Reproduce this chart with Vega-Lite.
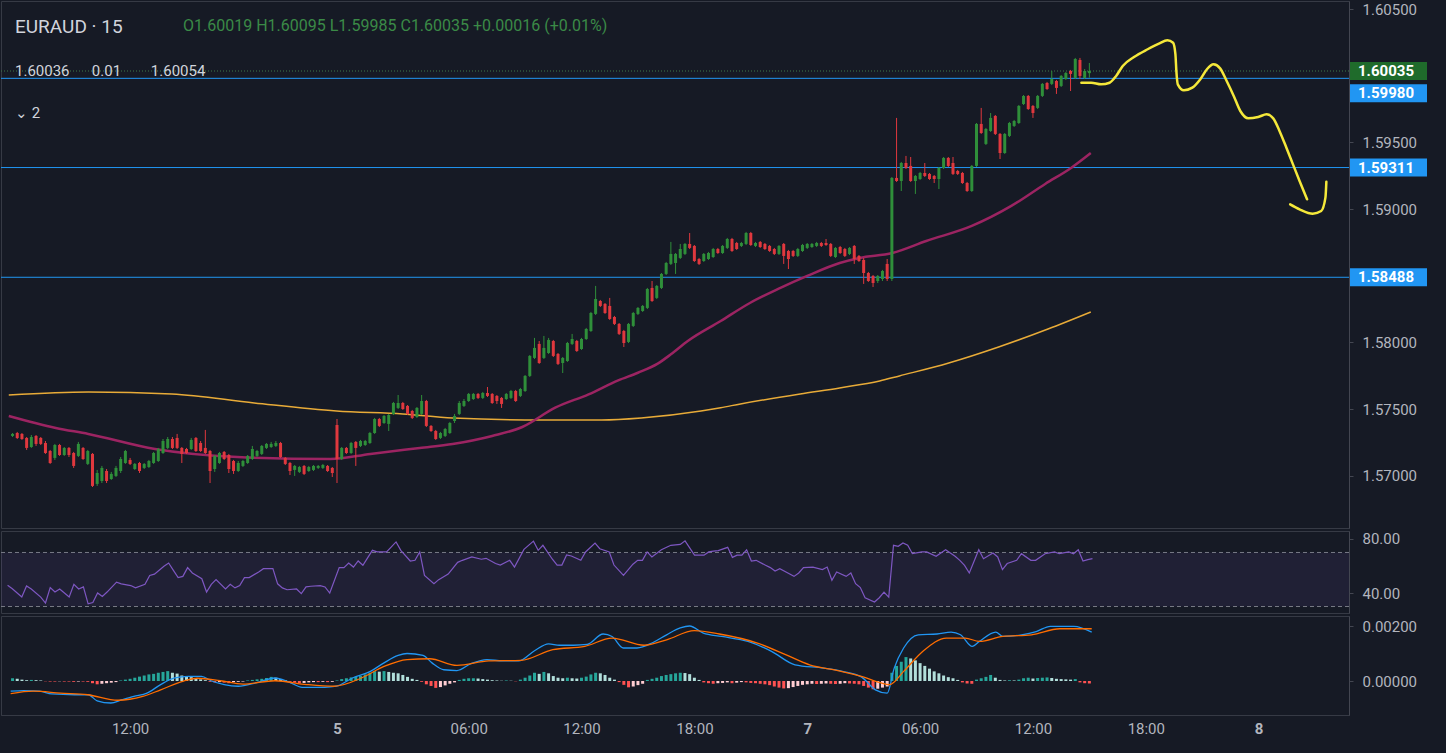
{
  "$schema": "https://vega.github.io/schema/vega-lite/v6.json",
  "background": "#161a25",
  "padding": 0,
  "spacing": 1,
  "title": {"text": "O1.60019 H1.60095 L1.59985 C1.60035 +0.00016 (+0.01%)", "anchor": "start", "dx": 183, "offset": -33, "font": "Roboto", "fontSize": 16, "fontWeight": "normal", "color": "#3b8a47"},
  "config": {
    "view": {"stroke": "#363a45", "strokeWidth": 1},
    "font": "Roboto",
    "axis": {"labelColor": "#b2b5be", "labelFont": "Roboto", "labelFontSize": 15, "domainColor": "#434651", "tickColor": "#434651", "grid": false}
  },
  "resolve": {"scale": {"y": "independent", "color": "independent"}},
  "datasets": {
    "candles": [
      {"i":0,"o":1.57298,"h":1.5732,"l":1.5729,"c":1.57313,"hv":0.0001},
      {"i":1,"o":1.5732,"h":1.57328,"l":1.57275,"c":1.57283,"hv":0.00008},
      {"i":2,"o":1.57313,"h":1.5732,"l":1.57268,"c":1.57275,"hv":0.00005},
      {"i":3,"o":1.57283,"h":1.5729,"l":1.57193,"c":1.57208,"hv":0.00003},
      {"i":4,"o":1.57215,"h":1.57305,"l":1.57208,"c":1.5729,"hv":0.00004},
      {"i":5,"o":1.57298,"h":1.57305,"l":1.57223,"c":1.57238,"hv":0.00003},
      {"i":6,"o":1.57283,"h":1.5729,"l":1.5723,"c":1.57238,"hv":0.00002},
      {"i":7,"o":1.57245,"h":1.5726,"l":1.57163,"c":1.5717,"hv":-0.00001},
      {"i":8,"o":1.57185,"h":1.57193,"l":1.57088,"c":1.57095,"hv":-0.00002},
      {"i":9,"o":1.57133,"h":1.57238,"l":1.57118,"c":1.5723,"hv":-0.00002},
      {"i":10,"o":1.5723,"h":1.57238,"l":1.57148,"c":1.57155,"hv":-0.00001},
      {"i":11,"o":1.57155,"h":1.57215,"l":1.57148,"c":1.57208,"hv":-0.00002},
      {"i":12,"o":1.57208,"h":1.57215,"l":1.5714,"c":1.57155,"hv":-0.00002},
      {"i":13,"o":1.5717,"h":1.57178,"l":1.57058,"c":1.57073,"hv":-0.00003},
      {"i":14,"o":1.57148,"h":1.57253,"l":1.5714,"c":1.57238,"hv":-0.00002},
      {"i":15,"o":1.57208,"h":1.57215,"l":1.57118,"c":1.57125,"hv":-0.00002},
      {"i":16,"o":1.57088,"h":1.57193,"l":1.5708,"c":1.57185,"hv":-0.00003},
      {"i":17,"o":1.57163,"h":1.5717,"l":1.56915,"c":1.56923,"hv":-0.00008},
      {"i":18,"o":1.56938,"h":1.57043,"l":1.56923,"c":1.5702,"hv":-0.00012},
      {"i":19,"o":1.5696,"h":1.57073,"l":1.56945,"c":1.57058,"hv":-0.0001},
      {"i":20,"o":1.57035,"h":1.5705,"l":1.56945,"c":1.5696,"hv":-0.00008},
      {"i":21,"o":1.56975,"h":1.57028,"l":1.56968,"c":1.57013,"hv":-0.00006},
      {"i":22,"o":1.56998,"h":1.57073,"l":1.5699,"c":1.57058,"hv":-0.00004},
      {"i":23,"o":1.57035,"h":1.5714,"l":1.5702,"c":1.57125,"hv":0.00002},
      {"i":24,"o":1.57095,"h":1.57193,"l":1.57088,"c":1.57185,"hv":0.00005},
      {"i":25,"o":1.57118,"h":1.57133,"l":1.5708,"c":1.57088,"hv":0.00008},
      {"i":26,"o":1.5705,"h":1.57095,"l":1.57043,"c":1.57088,"hv":0.00012},
      {"i":27,"o":1.57095,"h":1.57103,"l":1.5702,"c":1.57035,"hv":0.00016},
      {"i":28,"o":1.57058,"h":1.57095,"l":1.5705,"c":1.57088,"hv":0.0002},
      {"i":29,"o":1.57065,"h":1.57118,"l":1.57058,"c":1.5711,"hv":0.00024},
      {"i":30,"o":1.57095,"h":1.57178,"l":1.57088,"c":1.5717,"hv":0.00026},
      {"i":31,"o":1.5711,"h":1.57208,"l":1.57103,"c":1.572,"hv":0.0003},
      {"i":32,"o":1.5717,"h":1.57275,"l":1.57163,"c":1.5726,"hv":0.00033},
      {"i":33,"o":1.57208,"h":1.5729,"l":1.572,"c":1.57275,"hv":0.00036},
      {"i":34,"o":1.57275,"h":1.5729,"l":1.572,"c":1.57208,"hv":0.0003},
      {"i":35,"o":1.57283,"h":1.57313,"l":1.572,"c":1.57208,"hv":0.00027},
      {"i":36,"o":1.57208,"h":1.57215,"l":1.57095,"c":1.57163,"hv":0.0002},
      {"i":37,"o":1.572,"h":1.57208,"l":1.57163,"c":1.5717,"hv":0.00016},
      {"i":38,"o":1.572,"h":1.57283,"l":1.57193,"c":1.57268,"hv":0.00014},
      {"i":39,"o":1.57283,"h":1.5729,"l":1.57178,"c":1.57185,"hv":0.0001},
      {"i":40,"o":1.57245,"h":1.5726,"l":1.57178,"c":1.57185,"hv":0.00006},
      {"i":41,"o":1.57208,"h":1.57343,"l":1.57163,"c":1.5717,"hv":0.00003},
      {"i":42,"o":1.57185,"h":1.57193,"l":1.56945,"c":1.57035,"hv":-0.00003},
      {"i":43,"o":1.5705,"h":1.57155,"l":1.57028,"c":1.57148,"hv":-0.00005},
      {"i":44,"o":1.57095,"h":1.57178,"l":1.57088,"c":1.5717,"hv":-0.00004},
      {"i":45,"o":1.57178,"h":1.57185,"l":1.57118,"c":1.57125,"hv":-0.00006},
      {"i":46,"o":1.57155,"h":1.57163,"l":1.5702,"c":1.5705,"hv":-0.00008},
      {"i":47,"o":1.5711,"h":1.57118,"l":1.57013,"c":1.57035,"hv":-0.00004},
      {"i":48,"o":1.57035,"h":1.5711,"l":1.57028,"c":1.57095,"hv":-0.00003},
      {"i":49,"o":1.57073,"h":1.57118,"l":1.57065,"c":1.5711,"hv":-0.00002},
      {"i":50,"o":1.57095,"h":1.57155,"l":1.57088,"c":1.57148,"hv":0.00002},
      {"i":51,"o":1.57125,"h":1.57223,"l":1.57118,"c":1.572,"hv":0.00004},
      {"i":52,"o":1.57148,"h":1.57193,"l":1.5714,"c":1.57185,"hv":0.00006},
      {"i":53,"o":1.57163,"h":1.5723,"l":1.57155,"c":1.57223,"hv":0.00008},
      {"i":54,"o":1.57208,"h":1.57245,"l":1.572,"c":1.57238,"hv":0.00011},
      {"i":55,"o":1.57215,"h":1.57253,"l":1.57208,"c":1.57238,"hv":0.00015},
      {"i":56,"o":1.57223,"h":1.5726,"l":1.57215,"c":1.57245,"hv":0.00012},
      {"i":57,"o":1.57245,"h":1.57253,"l":1.57133,"c":1.5714,"hv":0.00007},
      {"i":58,"o":1.57133,"h":1.5714,"l":1.5708,"c":1.57088,"hv":0.00003},
      {"i":59,"o":1.57095,"h":1.57103,"l":1.57005,"c":1.57035,"hv":-0.00003},
      {"i":60,"o":1.57043,"h":1.5708,"l":1.56998,"c":1.57073,"hv":-0.00006},
      {"i":61,"o":1.57028,"h":1.57073,"l":1.5702,"c":1.57065,"hv":-0.00008},
      {"i":62,"o":1.57073,"h":1.5708,"l":1.57005,"c":1.57013,"hv":-0.00007},
      {"i":63,"o":1.57035,"h":1.57073,"l":1.57028,"c":1.57065,"hv":-0.00005},
      {"i":64,"o":1.57043,"h":1.5708,"l":1.57035,"c":1.57073,"hv":-0.00004},
      {"i":65,"o":1.57058,"h":1.5708,"l":1.5705,"c":1.57073,"hv":-0.00004},
      {"i":66,"o":1.57058,"h":1.57088,"l":1.5705,"c":1.5708,"hv":-0.00003},
      {"i":67,"o":1.57073,"h":1.5708,"l":1.57028,"c":1.57035,"hv":-0.00004},
      {"i":68,"o":1.57058,"h":1.57065,"l":1.5699,"c":1.5702,"hv":-0.00003},
      {"i":69,"o":1.5738,"h":1.57425,"l":1.56945,"c":1.57125,"hv":0.00002},
      {"i":70,"o":1.57125,"h":1.57215,"l":1.57118,"c":1.57208,"hv":0.00007},
      {"i":71,"o":1.57208,"h":1.57215,"l":1.57163,"c":1.5717,"hv":0.0001},
      {"i":72,"o":1.5717,"h":1.57253,"l":1.57163,"c":1.57245,"hv":0.00013},
      {"i":73,"o":1.57253,"h":1.5726,"l":1.57073,"c":1.57208,"hv":0.00015},
      {"i":74,"o":1.57223,"h":1.57268,"l":1.57215,"c":1.5726,"hv":0.00018},
      {"i":75,"o":1.5723,"h":1.57268,"l":1.57223,"c":1.5726,"hv":0.00024},
      {"i":76,"o":1.57245,"h":1.57328,"l":1.57238,"c":1.5732,"hv":0.0003},
      {"i":77,"o":1.5732,"h":1.57433,"l":1.57313,"c":1.57425,"hv":0.00036},
      {"i":78,"o":1.57425,"h":1.57433,"l":1.57365,"c":1.57373,"hv":0.00034},
      {"i":79,"o":1.57395,"h":1.57455,"l":1.57388,"c":1.57448,"hv":0.00036},
      {"i":80,"o":1.57388,"h":1.57463,"l":1.57335,"c":1.57455,"hv":0.00033},
      {"i":81,"o":1.57463,"h":1.57553,"l":1.57455,"c":1.57545,"hv":0.0003},
      {"i":82,"o":1.57508,"h":1.57605,"l":1.575,"c":1.57545,"hv":0.00028},
      {"i":83,"o":1.57545,"h":1.57553,"l":1.57493,"c":1.575,"hv":0.00022},
      {"i":84,"o":1.57523,"h":1.5753,"l":1.57455,"c":1.57463,"hv":0.00015},
      {"i":85,"o":1.57485,"h":1.57493,"l":1.57425,"c":1.57433,"hv":0.00008},
      {"i":86,"o":1.5744,"h":1.57515,"l":1.57433,"c":1.57508,"hv":0.00004},
      {"i":87,"o":1.57463,"h":1.57605,"l":1.57455,"c":1.5756,"hv":-0.00003},
      {"i":88,"o":1.5756,"h":1.57568,"l":1.57365,"c":1.57373,"hv":-0.00012},
      {"i":89,"o":1.57373,"h":1.5738,"l":1.57328,"c":1.57335,"hv":-0.00018},
      {"i":90,"o":1.57335,"h":1.57343,"l":1.57268,"c":1.57275,"hv":-0.00025},
      {"i":91,"o":1.57283,"h":1.57328,"l":1.57275,"c":1.5732,"hv":-0.00022},
      {"i":92,"o":1.57298,"h":1.57358,"l":1.5729,"c":1.5735,"hv":-0.00016},
      {"i":93,"o":1.5732,"h":1.57403,"l":1.57313,"c":1.57395,"hv":-0.0001},
      {"i":94,"o":1.5741,"h":1.57463,"l":1.57395,"c":1.57448,"hv":-0.00005},
      {"i":95,"o":1.57463,"h":1.5756,"l":1.57455,"c":1.57545,"hv":0.00004},
      {"i":96,"o":1.57523,"h":1.57575,"l":1.57515,"c":1.5756,"hv":0.00008},
      {"i":97,"o":1.5756,"h":1.5762,"l":1.57553,"c":1.57613,"hv":0.0001},
      {"i":98,"o":1.57575,"h":1.5762,"l":1.57568,"c":1.57613,"hv":0.0001},
      {"i":99,"o":1.57613,"h":1.5762,"l":1.57575,"c":1.57583,"hv":0.00009},
      {"i":100,"o":1.57583,"h":1.57628,"l":1.57575,"c":1.5762,"hv":0.00007},
      {"i":101,"o":1.5762,"h":1.57665,"l":1.5759,"c":1.57598,"hv":0.00005},
      {"i":102,"o":1.57613,"h":1.5762,"l":1.57538,"c":1.57545,"hv":0.00003},
      {"i":103,"o":1.57598,"h":1.57605,"l":1.57538,"c":1.5756,"hv":0.00002},
      {"i":104,"o":1.57583,"h":1.5759,"l":1.57508,"c":1.57538,"hv":0.00001},
      {"i":105,"o":1.57575,"h":1.5762,"l":1.57568,"c":1.57613,"hv":0.00002},
      {"i":106,"o":1.57583,"h":1.57643,"l":1.57575,"c":1.57635,"hv":0.00001},
      {"i":107,"o":1.57635,"h":1.57643,"l":1.57553,"c":1.5756,"hv":-0.00001},
      {"i":108,"o":1.57598,"h":1.57658,"l":1.5759,"c":1.5765,"hv":0.00005},
      {"i":109,"o":1.57635,"h":1.57755,"l":1.57628,"c":1.57748,"hv":0.00012},
      {"i":110,"o":1.57748,"h":1.57905,"l":1.5774,"c":1.57898,"hv":0.0002},
      {"i":111,"o":1.57883,"h":1.58033,"l":1.57875,"c":1.57958,"hv":0.0003},
      {"i":112,"o":1.57988,"h":1.5801,"l":1.57838,"c":1.57845,"hv":0.00026},
      {"i":113,"o":1.57883,"h":1.58048,"l":1.57875,"c":1.57958,"hv":0.00033},
      {"i":114,"o":1.5792,"h":1.58033,"l":1.57913,"c":1.58018,"hv":0.00028},
      {"i":115,"o":1.5801,"h":1.58018,"l":1.5789,"c":1.57898,"hv":0.00018},
      {"i":116,"o":1.57913,"h":1.5792,"l":1.5783,"c":1.57838,"hv":0.00012},
      {"i":117,"o":1.57845,"h":1.5789,"l":1.5777,"c":1.57883,"hv":0.0001},
      {"i":118,"o":1.5786,"h":1.58003,"l":1.57853,"c":1.57995,"hv":0.00012},
      {"i":119,"o":1.57988,"h":1.58063,"l":1.5798,"c":1.58025,"hv":0.0001},
      {"i":120,"o":1.5801,"h":1.58018,"l":1.57928,"c":1.57935,"hv":0.00009},
      {"i":121,"o":1.5795,"h":1.58033,"l":1.57943,"c":1.58025,"hv":0.00012},
      {"i":122,"o":1.58025,"h":1.58108,"l":1.58018,"c":1.581,"hv":0.00016},
      {"i":123,"o":1.58085,"h":1.58228,"l":1.58078,"c":1.5822,"hv":0.00024},
      {"i":124,"o":1.58213,"h":1.58423,"l":1.58205,"c":1.58325,"hv":0.0003},
      {"i":125,"o":1.5831,"h":1.58318,"l":1.58265,"c":1.58273,"hv":0.00028},
      {"i":126,"o":1.58288,"h":1.58295,"l":1.58213,"c":1.5822,"hv":0.00022},
      {"i":127,"o":1.58273,"h":1.58333,"l":1.58168,"c":1.58175,"hv":0.00012},
      {"i":128,"o":1.5819,"h":1.58198,"l":1.5813,"c":1.58138,"hv":0.00005},
      {"i":129,"o":1.58138,"h":1.58145,"l":1.58055,"c":1.58063,"hv":-0.00004},
      {"i":130,"o":1.58085,"h":1.58093,"l":1.57965,"c":1.57995,"hv":-0.00014},
      {"i":131,"o":1.58003,"h":1.58145,"l":1.57995,"c":1.58138,"hv":-0.00023},
      {"i":132,"o":1.58123,"h":1.58228,"l":1.58115,"c":1.5822,"hv":-0.0002},
      {"i":133,"o":1.58213,"h":1.58265,"l":1.58205,"c":1.58258,"hv":-0.00015},
      {"i":134,"o":1.58235,"h":1.5828,"l":1.58228,"c":1.58273,"hv":-0.0001},
      {"i":135,"o":1.58258,"h":1.58408,"l":1.5825,"c":1.584,"hv":0.00004},
      {"i":136,"o":1.58408,"h":1.5846,"l":1.58303,"c":1.5831,"hv":0.00008},
      {"i":137,"o":1.58333,"h":1.5843,"l":1.58325,"c":1.58423,"hv":0.00012},
      {"i":138,"o":1.58408,"h":1.5852,"l":1.584,"c":1.58513,"hv":0.00018},
      {"i":139,"o":1.58513,"h":1.58603,"l":1.58505,"c":1.58595,"hv":0.00022},
      {"i":140,"o":1.58588,"h":1.58753,"l":1.5858,"c":1.58663,"hv":0.00025},
      {"i":141,"o":1.58595,"h":1.5867,"l":1.58513,"c":1.58663,"hv":0.00028},
      {"i":142,"o":1.58633,"h":1.58738,"l":1.58625,"c":1.587,"hv":0.0003},
      {"i":143,"o":1.58663,"h":1.58745,"l":1.58655,"c":1.58738,"hv":0.00029},
      {"i":144,"o":1.58738,"h":1.5882,"l":1.587,"c":1.58708,"hv":0.00025},
      {"i":145,"o":1.58723,"h":1.5873,"l":1.58603,"c":1.5861,"hv":0.00012},
      {"i":146,"o":1.58625,"h":1.58633,"l":1.5858,"c":1.58588,"hv":0.00004},
      {"i":147,"o":1.5861,"h":1.5867,"l":1.58603,"c":1.58663,"hv":-0.00005},
      {"i":148,"o":1.58625,"h":1.58678,"l":1.58618,"c":1.5867,"hv":-0.00008},
      {"i":149,"o":1.5864,"h":1.58708,"l":1.58633,"c":1.587,"hv":-0.0001},
      {"i":150,"o":1.587,"h":1.58708,"l":1.58663,"c":1.5867,"hv":-0.00008},
      {"i":151,"o":1.5867,"h":1.5873,"l":1.58663,"c":1.58723,"hv":-0.00007},
      {"i":152,"o":1.58708,"h":1.58783,"l":1.587,"c":1.58775,"hv":-0.00005},
      {"i":153,"o":1.58775,"h":1.58783,"l":1.58678,"c":1.58685,"hv":-0.00008},
      {"i":154,"o":1.58745,"h":1.58753,"l":1.58693,"c":1.587,"hv":-0.00006},
      {"i":155,"o":1.58723,"h":1.58753,"l":1.58715,"c":1.58745,"hv":-0.00004},
      {"i":156,"o":1.58738,"h":1.58828,"l":1.5873,"c":1.5882,"hv":-0.00005},
      {"i":157,"o":1.5882,"h":1.58828,"l":1.58723,"c":1.5873,"hv":-0.00007},
      {"i":158,"o":1.58723,"h":1.58753,"l":1.58715,"c":1.58745,"hv":-0.00008},
      {"i":159,"o":1.58753,"h":1.5876,"l":1.58708,"c":1.58715,"hv":-0.0001},
      {"i":160,"o":1.58738,"h":1.58745,"l":1.58693,"c":1.587,"hv":-0.00012},
      {"i":161,"o":1.58723,"h":1.5873,"l":1.58678,"c":1.58685,"hv":-0.00015},
      {"i":162,"o":1.587,"h":1.58708,"l":1.58655,"c":1.58663,"hv":-0.0002},
      {"i":163,"o":1.58663,"h":1.5873,"l":1.58655,"c":1.58723,"hv":-0.00024},
      {"i":164,"o":1.58738,"h":1.58745,"l":1.58588,"c":1.58648,"hv":-0.00027},
      {"i":165,"o":1.58685,"h":1.58693,"l":1.5855,"c":1.58625,"hv":-0.00026},
      {"i":166,"o":1.58685,"h":1.58693,"l":1.5864,"c":1.58648,"hv":-0.00022},
      {"i":167,"o":1.58648,"h":1.58708,"l":1.5864,"c":1.587,"hv":-0.00018},
      {"i":168,"o":1.58685,"h":1.58738,"l":1.58678,"c":1.5873,"hv":-0.00014},
      {"i":169,"o":1.58708,"h":1.58745,"l":1.587,"c":1.58738,"hv":-0.00012},
      {"i":170,"o":1.58715,"h":1.58745,"l":1.58708,"c":1.58738,"hv":-0.0001},
      {"i":171,"o":1.58723,"h":1.58753,"l":1.58715,"c":1.58745,"hv":-0.00011},
      {"i":172,"o":1.58745,"h":1.58753,"l":1.58715,"c":1.58723,"hv":-0.0001},
      {"i":173,"o":1.58745,"h":1.58775,"l":1.58723,"c":1.5873,"hv":-0.00009},
      {"i":174,"o":1.58738,"h":1.58745,"l":1.5864,"c":1.58648,"hv":-0.0001},
      {"i":175,"o":1.5864,"h":1.58715,"l":1.58633,"c":1.58708,"hv":-0.00011},
      {"i":176,"o":1.58715,"h":1.58723,"l":1.58663,"c":1.5867,"hv":-0.0001},
      {"i":177,"o":1.587,"h":1.58708,"l":1.5864,"c":1.58648,"hv":-0.00008},
      {"i":178,"o":1.58663,"h":1.58715,"l":1.58655,"c":1.58708,"hv":-0.00009},
      {"i":179,"o":1.58723,"h":1.5873,"l":1.58588,"c":1.58625,"hv":-0.0001},
      {"i":180,"o":1.58648,"h":1.58655,"l":1.58603,"c":1.5861,"hv":-0.00012},
      {"i":181,"o":1.58618,"h":1.58633,"l":1.58438,"c":1.5852,"hv":-0.00018},
      {"i":182,"o":1.5852,"h":1.58528,"l":1.58453,"c":1.5846,"hv":-0.00024},
      {"i":183,"o":1.58498,"h":1.58505,"l":1.58415,"c":1.58445,"hv":-0.0003},
      {"i":184,"o":1.5846,"h":1.58505,"l":1.58445,"c":1.58498,"hv":-0.00028},
      {"i":185,"o":1.58475,"h":1.58543,"l":1.5846,"c":1.58535,"hv":-0.00024},
      {"i":186,"o":1.58588,"h":1.58625,"l":1.5846,"c":1.58475,"hv":-0.0002},
      {"i":187,"o":1.58475,"h":1.5924,"l":1.5846,"c":1.59233,"hv":0.0003},
      {"i":188,"o":1.59233,"h":1.59683,"l":1.59203,"c":1.5921,"hv":0.00055},
      {"i":189,"o":1.5921,"h":1.59353,"l":1.59135,"c":1.59345,"hv":0.0007},
      {"i":190,"o":1.59345,"h":1.59398,"l":1.593,"c":1.59308,"hv":0.00087},
      {"i":191,"o":1.59323,"h":1.5939,"l":1.59203,"c":1.5921,"hv":0.00082},
      {"i":192,"o":1.5921,"h":1.59255,"l":1.59113,"c":1.59248,"hv":0.00075},
      {"i":193,"o":1.59225,"h":1.59278,"l":1.59218,"c":1.5927,"hv":0.00065},
      {"i":194,"o":1.5927,"h":1.59345,"l":1.5924,"c":1.59248,"hv":0.00055},
      {"i":195,"o":1.59263,"h":1.5927,"l":1.59218,"c":1.59225,"hv":0.00045},
      {"i":196,"o":1.59248,"h":1.59255,"l":1.59195,"c":1.59225,"hv":0.00035},
      {"i":197,"o":1.59225,"h":1.59315,"l":1.5915,"c":1.59308,"hv":0.00028},
      {"i":198,"o":1.59308,"h":1.5939,"l":1.593,"c":1.59383,"hv":0.0002},
      {"i":199,"o":1.59383,"h":1.5939,"l":1.59315,"c":1.59323,"hv":0.00014},
      {"i":200,"o":1.59345,"h":1.5939,"l":1.59255,"c":1.59263,"hv":0.0001},
      {"i":201,"o":1.59285,"h":1.59293,"l":1.59255,"c":1.59263,"hv":0.00004},
      {"i":202,"o":1.5927,"h":1.59278,"l":1.59188,"c":1.59195,"hv":-0.00005},
      {"i":203,"o":1.59195,"h":1.59203,"l":1.59128,"c":1.59135,"hv":-0.00009},
      {"i":204,"o":1.59135,"h":1.5933,"l":1.59128,"c":1.59323,"hv":-0.0001},
      {"i":205,"o":1.59323,"h":1.59645,"l":1.59315,"c":1.59638,"hv":0.00005},
      {"i":206,"o":1.59638,"h":1.59758,"l":1.59563,"c":1.5957,"hv":0.0001},
      {"i":207,"o":1.59488,"h":1.59608,"l":1.5948,"c":1.596,"hv":0.00015},
      {"i":208,"o":1.59585,"h":1.5972,"l":1.59578,"c":1.59683,"hv":0.00022},
      {"i":209,"o":1.59698,"h":1.59705,"l":1.59555,"c":1.59563,"hv":0.00012},
      {"i":210,"o":1.59563,"h":1.5957,"l":1.59375,"c":1.5942,"hv":0.00004},
      {"i":211,"o":1.5942,"h":1.5957,"l":1.59413,"c":1.59563,"hv":0.00002},
      {"i":212,"o":1.59548,"h":1.59653,"l":1.5954,"c":1.59645,"hv":0.00003},
      {"i":213,"o":1.59623,"h":1.59668,"l":1.59615,"c":1.5966,"hv":0.00002},
      {"i":214,"o":1.59645,"h":1.5978,"l":1.59638,"c":1.59773,"hv":0.00005},
      {"i":215,"o":1.59788,"h":1.59855,"l":1.5978,"c":1.59848,"hv":0.0001},
      {"i":216,"o":1.59848,"h":1.59855,"l":1.59743,"c":1.5975,"hv":0.00012},
      {"i":217,"o":1.59773,"h":1.5978,"l":1.59683,"c":1.5972,"hv":0.00009},
      {"i":218,"o":1.59758,"h":1.59855,"l":1.5975,"c":1.59848,"hv":0.00011},
      {"i":219,"o":1.59848,"h":1.59945,"l":1.5984,"c":1.59938,"hv":0.00012},
      {"i":220,"o":1.59945,"h":1.59953,"l":1.59893,"c":1.599,"hv":0.00013},
      {"i":221,"o":1.59938,"h":1.60035,"l":1.5993,"c":1.59975,"hv":0.00011},
      {"i":222,"o":1.5996,"h":1.59968,"l":1.59863,"c":1.59908,"hv":0.00008},
      {"i":223,"o":1.59923,"h":1.60005,"l":1.59915,"c":1.59998,"hv":0.00007},
      {"i":224,"o":1.59975,"h":1.60028,"l":1.59968,"c":1.6002,"hv":0.00006},
      {"i":225,"o":1.60035,"h":1.60043,"l":1.59885,"c":1.60013,"hv":0.00005},
      {"i":226,"o":1.59983,"h":1.60133,"l":1.59975,"c":1.60125,"hv":0.00007},
      {"i":227,"o":1.60118,"h":1.60133,"l":1.59975,"c":1.59998,"hv":-0.00005},
      {"i":228,"o":1.59983,"h":1.6005,"l":1.59975,"c":1.60035,"hv":-0.00008},
      {"i":229,"o":1.60019,"h":1.60095,"l":1.59985,"c":1.60035,"hv":-0.00009}
    ],
    "ema": [
      {"i":-0.8,"v":1.57448},{"i":9.2,"v":1.57358},{"i":16.1,"v":1.57313},{"i":30.3,"v":1.572},{"i":47.8,"v":1.5714},{"i":67.6,"v":1.57125},{"i":76.1,"v":1.57163},{"i":86.6,"v":1.57208},{"i":93.6,"v":1.57238},{"i":102,"v":1.57298},{"i":108.4,"v":1.57365},{"i":115.4,"v":1.5751},{"i":122.5,"v":1.5761},{"i":128.8,"v":1.57715},{"i":133,"v":1.57772},{"i":137.2,"v":1.5784},{"i":140,"v":1.5791},{"i":143.6,"v":1.5801},{"i":150.6,"v":1.5816},{"i":156.9,"v":1.58297},{"i":163.3,"v":1.58408},{"i":169,"v":1.58498},{"i":175.9,"v":1.58595},{"i":180.1,"v":1.58633},{"i":187.1,"v":1.5867},{"i":194.3,"v":1.5876},{"i":204,"v":1.58873},{"i":212.4,"v":1.59023},{"i":219.6,"v":1.59188},{"i":225.1,"v":1.59308},{"i":229.3,"v":1.5942}
    ],
    "sma": [
      {"i":-0.8,"v":1.57605},{"i":16.1,"v":1.57628},{"i":33.9,"v":1.57613},{"i":51.4,"v":1.57545},{"i":68.9,"v":1.57485},{"i":83,"v":1.57463},{"i":93.6,"v":1.57433},{"i":112.6,"v":1.57418},{"i":125.3,"v":1.57418},{"i":133.7,"v":1.57433},{"i":146.4,"v":1.57485},{"i":150.6,"v":1.5751},{"i":154.8,"v":1.57538},{"i":167.5,"v":1.57613},{"i":175.9,"v":1.57658},{"i":184.4,"v":1.5771},{"i":188.6,"v":1.57748},{"i":199.1,"v":1.57845},{"i":209.7,"v":1.57965},{"i":220.2,"v":1.581},{"i":229.3,"v":1.58228}
    ],
    "levels": [{"p":1.5998},{"p":1.59311},{"p":1.58488}],
    "rsiband": [{"lo":30,"hi":70}],
    "rsi": [
      {"i":0,"v":45.7},{"i":1,"v":43.2},{"i":3,"v":37},{"i":4,"v":45.2},{"i":5,"v":43},{"i":7,"v":37},{"i":8,"v":32.6},{"i":9,"v":44},{"i":10,"v":40.7},{"i":11,"v":43},{"i":12,"v":40},{"i":13,"v":37},{"i":14,"v":46.4},{"i":15,"v":43},{"i":16,"v":44.5},{"i":17,"v":32},{"i":18,"v":33},{"i":19,"v":40},{"i":20,"v":37.4},{"i":21,"v":40.7},{"i":23,"v":48},{"i":24,"v":46.8},{"i":26,"v":45.5},{"i":27,"v":43.8},{"i":29,"v":46.4},{"i":30,"v":53},{"i":31,"v":54},{"i":33,"v":59.8},{"i":34,"v":62.2},{"i":35,"v":56.7},{"i":36,"v":51.4},{"i":37,"v":52.3},{"i":38,"v":58.8},{"i":39,"v":54.8},{"i":41,"v":50.6},{"i":42,"v":40.7},{"i":43,"v":46.4},{"i":44,"v":49.9},{"i":46,"v":43},{"i":47,"v":46.4},{"i":48,"v":43.8},{"i":49,"v":45.5},{"i":50,"v":51.4},{"i":51,"v":51.4},{"i":53,"v":55.6},{"i":54,"v":58},{"i":56,"v":58},{"i":57,"v":46.8},{"i":58,"v":43.8},{"i":59,"v":42.4},{"i":61,"v":43},{"i":62,"v":39.5},{"i":63,"v":44.5},{"i":64,"v":45},{"i":66,"v":45.5},{"i":67,"v":44.5},{"i":68,"v":40},{"i":70,"v":58.8},{"i":71,"v":58.8},{"i":72,"v":62.2},{"i":73,"v":59.2},{"i":74,"v":63.7},{"i":75,"v":60.5},{"i":77,"v":71.6},{"i":78,"v":70.4},{"i":80,"v":70.4},{"i":82,"v":77.8},{"i":83,"v":71.6},{"i":85,"v":63.7},{"i":86,"v":64.2},{"i":87,"v":70.4},{"i":88,"v":53},{"i":90,"v":46.8},{"i":91,"v":49.9},{"i":93,"v":54},{"i":95,"v":62.7},{"i":96,"v":64.2},{"i":98,"v":66.7},{"i":100,"v":65},{"i":101,"v":65.7},{"i":103,"v":61.8},{"i":104,"v":60.7},{"i":106,"v":64.2},{"i":107,"v":59.2},{"i":109,"v":72.3},{"i":111,"v":78.4},{"i":112,"v":71.6},{"i":113,"v":75.3},{"i":115,"v":65},{"i":116,"v":60.7},{"i":117,"v":60.7},{"i":118,"v":68.2},{"i":119,"v":67.4},{"i":121,"v":64.2},{"i":122,"v":70.4},{"i":124,"v":77},{"i":125,"v":72.8},{"i":127,"v":70.4},{"i":128,"v":60.7},{"i":130,"v":53},{"i":132,"v":61.3},{"i":133,"v":64.2},{"i":134,"v":64.2},{"i":135,"v":70.4},{"i":136,"v":66.7},{"i":138,"v":72},{"i":140,"v":75.3},{"i":142,"v":76},{"i":143,"v":78.6},{"i":145,"v":68},{"i":147,"v":68},{"i":148,"v":70.4},{"i":149,"v":71},{"i":150,"v":71.4},{"i":152,"v":73.8},{"i":153,"v":66.4},{"i":154,"v":68},{"i":155,"v":68},{"i":156,"v":72},{"i":157,"v":63.7},{"i":158,"v":64.2},{"i":160,"v":60.5},{"i":161,"v":58.8},{"i":162,"v":56.3},{"i":163,"v":58},{"i":165,"v":54.3},{"i":166,"v":52.3},{"i":167,"v":54.8},{"i":168,"v":58.8},{"i":170,"v":59.2},{"i":172,"v":57.3},{"i":173,"v":59.2},{"i":174,"v":49.4},{"i":175,"v":55.6},{"i":177,"v":52.3},{"i":178,"v":54.8},{"i":179,"v":46.9},{"i":180,"v":44},{"i":181,"v":36.5},{"i":183,"v":33.3},{"i":184,"v":36.5},{"i":185,"v":40.7},{"i":186,"v":37},{"i":187,"v":75.3},{"i":188,"v":74.6},{"i":189,"v":77},{"i":190,"v":75.3},{"i":191,"v":69.1},{"i":193,"v":70.4},{"i":194,"v":70.4},{"i":196,"v":67.2},{"i":198,"v":72},{"i":200,"v":67.2},{"i":201,"v":64.2},{"i":202,"v":60.5},{"i":203,"v":54.8},{"i":205,"v":72},{"i":206,"v":65.4},{"i":208,"v":69.6},{"i":209,"v":66.7},{"i":210,"v":57.3},{"i":211,"v":61.8},{"i":213,"v":64.2},{"i":214,"v":69.1},{"i":216,"v":64.2},{"i":217,"v":64.2},{"i":219,"v":69.1},{"i":221,"v":70.4},{"i":222,"v":69.1},{"i":224,"v":70.4},{"i":225,"v":69.1},{"i":226,"v":72},{"i":227,"v":63.7},{"i":228,"v":64.7},{"i":229,"v":65.4}
    ],
    "macd": [
      {"i":-0.4,"m":-0.00037},{"i":2.4,"m":-0.00035},{"i":5.8,"m":-0.00037},{"i":8.3,"m":-0.00047},{"i":13.2,"m":-0.0005},{"i":16.1,"m":-0.0005},{"i":18,"m":-0.00072},{"i":20.9,"m":-0.0008},{"i":23.3,"m":-0.00068},{"i":25.8,"m":-0.00056},{"i":28.6,"m":-0.00044},{"i":31.5,"m":-0.00013},{"i":34.5,"m":0.00011},{"i":37.4,"m":0.00017},{"i":40.2,"m":0.00017},{"i":42.2,"m":0.00001},{"i":45,"m":-0.00013},{"i":48,"m":-0.00019},{"i":51.9,"m":-0.00006},{"i":55.8,"m":0.00011},{"i":58.7,"m":-0.00003},{"i":61.6,"m":-0.00023},{"i":66.4,"m":-0.00023},{"i":68.9,"m":-0.00019},{"i":72.3,"m":0.00011},{"i":76.1,"m":0.00035},{"i":79,"m":0.00066},{"i":82,"m":0.00093},{"i":83.9,"m":0.001},{"i":87.3,"m":0.00093},{"i":89.2,"m":0.00066},{"i":91.7,"m":0.00041},{"i":94.5,"m":0.00038},{"i":97.5,"m":0.00063},{"i":100.9,"m":0.00078},{"i":104.2,"m":0.00073},{"i":107.6,"m":0.00073},{"i":111,"m":0.0011},{"i":114,"m":0.00135},{"i":116.3,"m":0.0013},{"i":119.3,"m":0.0013},{"i":122.2,"m":0.00133},{"i":125.6,"m":0.00171},{"i":127.5,"m":0.00162},{"i":129.9,"m":0.0012},{"i":132.8,"m":0.0012},{"i":136.2,"m":0.0014},{"i":139.1,"m":0.00168},{"i":142,"m":0.00193},{"i":144,"m":0.002},{"i":146.9,"m":0.00174},{"i":150.8,"m":0.00162},{"i":156.4,"m":0.00144},{"i":161.4,"m":0.00108},{"i":166.4,"m":0.00059},{"i":172.5,"m":0.00047},{"i":176.5,"m":0.00035},{"i":180.5,"m":0.00015},{"i":183.5,"m":-0.00032},{"i":186,"m":-0.00044},{"i":187.5,"m":0.00047},{"i":189.5,"m":0.0012},{"i":192.6,"m":0.00168},{"i":196.6,"m":0.00171},{"i":199.6,"m":0.00178},{"i":201.6,"m":0.00168},{"i":204.1,"m":0.00126},{"i":205.6,"m":0.00144},{"i":209.1,"m":0.00178},{"i":210.6,"m":0.00162},{"i":214.6,"m":0.00168},{"i":217.7,"m":0.0018},{"i":220.7,"m":0.00199},{"i":225.7,"m":0.00199},{"i":229.5,"m":0.00178}
    ],
    "sig": [
      {"i":-0.4,"s":-0.00046},{"i":4.4,"s":-0.00037},{"i":10.2,"s":-0.00044},{"i":16,"s":-0.0005},{"i":22.4,"s":-0.0007},{"i":27.7,"s":-0.00056},{"i":31.5,"s":-0.00032},{"i":36.4,"s":0},{"i":39.3,"s":0.0001},{"i":44.2,"s":0.00001},{"i":49,"s":-0.00011},{"i":55.8,"s":0.00001},{"i":62.6,"s":-0.00013},{"i":68.4,"s":-0.00019},{"i":74.2,"s":0.00011},{"i":79,"s":0.00053},{"i":83.9,"s":0.00078},{"i":88.7,"s":0.00081},{"i":94.5,"s":0.00057},{"i":101.3,"s":0.00073},{"i":108.1,"s":0.00075},{"i":114.9,"s":0.00114},{"i":121.7,"s":0.00126},{"i":127.5,"s":0.00156},{"i":134.3,"s":0.0013},{"i":139.1,"s":0.0015},{"i":145,"s":0.00183},{"i":150.3,"s":0.00171},{"i":158.4,"s":0.00138},{"i":164.4,"s":0.00096},{"i":169.5,"s":0.00059},{"i":175.5,"s":0.00038},{"i":180.5,"s":0.00017},{"i":184.5,"s":-0.00006},{"i":186.5,"s":-0.00013},{"i":189.5,"s":0.00035},{"i":193.6,"s":0.00108},{"i":198.6,"s":0.00156},{"i":202.6,"s":0.00156},{"i":205.6,"s":0.00144},{"i":210.6,"s":0.00162},{"i":216.7,"s":0.00168},{"i":222.7,"s":0.0019},{"i":229.5,"s":0.0019}
    ],
    "drawing": [
      {"s":1,"k":0,"i":227.3,"p":1.59947},{"s":1,"k":1,"i":229.4,"p":1.59947},{"s":1,"k":2,"i":231.5,"p":1.59935},{"s":1,"k":3,"i":233.3,"p":1.59947},{"s":1,"k":4,"i":234.7,"p":1.59998},{"s":1,"k":5,"i":236.1,"p":1.60073},{"s":1,"k":6,"i":238.5,"p":1.6014},{"s":1,"k":7,"i":241.4,"p":1.60198},{"s":1,"k":8,"i":243.8,"p":1.6024},{"s":1,"k":9,"i":245.6,"p":1.60265},{"s":1,"k":10,"i":246.8,"p":1.60247},{"s":1,"k":11,"i":247.3,"p":1.6016},{"s":1,"k":12,"i":247.5,"p":1.60035},{"s":1,"k":13,"i":247.8,"p":1.59935},{"s":1,"k":14,"i":249.1,"p":1.5989},{"s":1,"k":15,"i":250.9,"p":1.5991},{"s":1,"k":16,"i":252.6,"p":1.59973},{"s":1,"k":17,"i":254,"p":1.60048},{"s":1,"k":18,"i":255.4,"p":1.60085},{"s":1,"k":19,"i":256.8,"p":1.60055},{"s":1,"k":20,"i":258.2,"p":1.5996},{"s":1,"k":21,"i":259.7,"p":1.59848},{"s":1,"k":22,"i":261.1,"p":1.59735},{"s":1,"k":23,"i":262.8,"p":1.5968},{"s":1,"k":24,"i":264.9,"p":1.5969},{"s":1,"k":25,"i":266.7,"p":1.5971},{"s":1,"k":26,"i":268.1,"p":1.5968},{"s":1,"k":27,"i":269.5,"p":1.5958},{"s":1,"k":28,"i":270.9,"p":1.5946},{"s":1,"k":29,"i":272.3,"p":1.59335},{"s":1,"k":30,"i":273.7,"p":1.5921},{"s":1,"k":31,"i":275.3,"p":1.59073},
      {"s":2,"k":0,"i":271.7,"p":1.59035},{"s":2,"k":1,"i":273.7,"p":1.58998},{"s":2,"k":2,"i":276.5,"p":1.58965},{"s":2,"k":3,"i":278.3,"p":1.58985},{"s":2,"k":4,"i":279.2,"p":1.59085},{"s":2,"k":5,"i":279.4,"p":1.59205}
    ]
  },
  "vconcat": [
    {
      "width": 1348,
      "height": 527,
      "title": {"text": "EURAUD · 15", "subtitle": ["\u00a0\u00a0\u00a01.60036\u00a0\u00a0\u00a0\u00a0\u00a0\u00a00.01\u00a0\u00a0\u00a0\u00a0\u00a0\u00a0\u00a0\u00a01.60054", "⌄ 2"], "anchor": "start", "frame": "group", "dx": 14, "offset": -120, "font": "Roboto", "fontSize": 19, "fontWeight": "normal", "color": "#d1d4dc", "subtitleFont": "Roboto", "subtitleFontSize": 15, "subtitleColor": "#d1d4dc", "subtitlePadding": 27, "subtitleLineHeight": 42},
      "layer": [
        {
          "data": {"name": "levels"},
          "mark": {"type": "rule", "color": "#2196f3", "strokeWidth": 1},
          "encoding": {"y": {"field": "p", "type": "quantitative", "scale": {"domain": [1.566075, 1.6056], "nice": false, "zero": false}, "axis": {"orient": "right", "values": [1.57, 1.575, 1.58, 1.59, 1.595, 1.605], "format": ".5f", "title": null, "minExtent": 98, "tickSize": 4, "labelPadding": 9}}}
        },
        {
          "data": {"name": "candles"},
          "transform": [{"filter": "datum.i == 229"}],
          "mark": {"type": "rule", "color": "#3d7a4a", "strokeDash": [1, 2], "strokeWidth": 1},
          "encoding": {"y": {"field": "c", "type": "quantitative", "scale": {"domain": [1.566075, 1.6056], "nice": false, "zero": false}, "axis": {"orient": "right", "values": [1.57, 1.575, 1.58, 1.59, 1.595, 1.605], "format": ".5f", "title": null, "minExtent": 98, "tickSize": 4, "labelPadding": 9}}}
        },
        {
          "data": {"name": "sma"},
          "mark": {"type": "line", "color": "#e8ab38", "strokeWidth": 1.5, "interpolate": "monotone"},
          "encoding": {
            "x": {"field": "i", "type": "quantitative", "scale": {"domain": [-1.39, 283.15], "nice": false, "zero": false}, "axis": null},
            "y": {"field": "v", "type": "quantitative", "scale": {"domain": [1.566075, 1.6056], "nice": false, "zero": false}, "axis": {"orient": "right", "values": [1.57, 1.575, 1.58, 1.59, 1.595, 1.605], "format": ".5f", "title": null, "minExtent": 98, "tickSize": 4, "labelPadding": 9}}
          }
        },
        {
          "data": {"name": "ema"},
          "mark": {"type": "line", "color": "#9c2462", "strokeWidth": 2.5, "interpolate": "monotone"},
          "encoding": {
            "x": {"field": "i", "type": "quantitative", "scale": {"domain": [-1.39, 283.15], "nice": false, "zero": false}, "axis": null},
            "y": {"field": "v", "type": "quantitative", "scale": {"domain": [1.566075, 1.6056], "nice": false, "zero": false}, "axis": {"orient": "right", "values": [1.57, 1.575, 1.58, 1.59, 1.595, 1.605], "format": ".5f", "title": null, "minExtent": 98, "tickSize": 4, "labelPadding": 9}}
          }
        },
        {
          "data": {"name": "candles"},
          "transform": [{"calculate": "datum.c >= datum.o ? 'up' : 'dn'", "as": "dir"}],
          "layer": [
            {
              "mark": {"type": "rule", "strokeWidth": 1},
              "encoding": {
                "x": {"field": "i", "type": "quantitative", "scale": {"domain": [-1.39, 283.15], "nice": false, "zero": false}, "axis": null},
                "y": {"field": "l", "type": "quantitative", "scale": {"domain": [1.566075, 1.6056], "nice": false, "zero": false}, "axis": {"orient": "right", "values": [1.57, 1.575, 1.58, 1.59, 1.595, 1.605], "format": ".5f", "title": null, "minExtent": 98, "tickSize": 4, "labelPadding": 9}},
                "y2": {"field": "h"},
                "color": {"field": "dir", "type": "nominal", "scale": {"domain": ["up", "dn"], "range": ["#2f8f3a", "#e0383e"]}, "legend": null}
              }
            },
            {
              "mark": {"type": "bar", "width": 3},
              "encoding": {
                "x": {"field": "i", "type": "quantitative", "scale": {"domain": [-1.39, 283.15], "nice": false, "zero": false}, "axis": null},
                "y": {"field": "o", "type": "quantitative", "scale": {"domain": [1.566075, 1.6056], "nice": false, "zero": false}, "axis": {"orient": "right", "values": [1.57, 1.575, 1.58, 1.59, 1.595, 1.605], "format": ".5f", "title": null, "minExtent": 98, "tickSize": 4, "labelPadding": 9}},
                "y2": {"field": "c"},
                "color": {"field": "dir", "type": "nominal", "scale": {"domain": ["up", "dn"], "range": ["#2f8f3a", "#e0383e"]}, "legend": null}
              }
            }
          ]
        },
        {
          "data": {"name": "drawing"},
          "mark": {"type": "line", "color": "#f5e83a", "strokeWidth": 2.5, "interpolate": "monotone", "strokeCap": "round", "strokeJoin": "round"},
          "encoding": {
            "x": {"field": "i", "type": "quantitative", "scale": {"domain": [-1.39, 283.15], "nice": false, "zero": false}, "axis": null},
            "y": {"field": "p", "type": "quantitative", "scale": {"domain": [1.566075, 1.6056], "nice": false, "zero": false}, "axis": {"orient": "right", "values": [1.57, 1.575, 1.58, 1.59, 1.595, 1.605], "format": ".5f", "title": null, "minExtent": 98, "tickSize": 4, "labelPadding": 9}},
            "detail": {"field": "s", "type": "nominal"},
            "order": {"field": "k", "type": "quantitative"}
          }
        },
        {
          "data": {"name": "candles"},
          "transform": [{"filter": "datum.i == 229"}],
          "layer": [
            {
              "mark": {"type": "rect", "color": "#1f6b2b", "xOffset": 1, "x2Offset": 78, "yOffset": -9, "y2Offset": 9},
              "encoding": {
                "x": {"value": "width"}, "x2": {"value": "width"},
                "y": {"field": "c", "type": "quantitative", "scale": {"domain": [1.566075, 1.6056], "nice": false, "zero": false}, "axis": {"orient": "right", "values": [1.57, 1.575, 1.58, 1.59, 1.595, 1.605], "format": ".5f", "title": null, "minExtent": 98, "tickSize": 4, "labelPadding": 9}},
                "y2": {"field": "c"}
              }
            },
            {
              "mark": {"type": "text", "color": "#ffffff", "align": "left", "dx": 9, "font": "Roboto", "fontSize": 15, "fontWeight": "bold"},
              "encoding": {
                "x": {"value": "width"},
                "y": {"field": "c", "type": "quantitative", "scale": {"domain": [1.566075, 1.6056], "nice": false, "zero": false}, "axis": {"orient": "right", "values": [1.57, 1.575, 1.58, 1.59, 1.595, 1.605], "format": ".5f", "title": null, "minExtent": 98, "tickSize": 4, "labelPadding": 9}},
                "text": {"field": "c", "type": "quantitative", "format": ".5f"}
              }
            }
          ]
        },
        {
          "data": {"name": "levels"},
          "transform": [{"filter": "datum.p < 1.599"}],
          "layer": [
            {
              "mark": {"type": "rect", "color": "#2196f3", "xOffset": 1, "x2Offset": 78, "yOffset": -9, "y2Offset": 9},
              "encoding": {
                "x": {"value": "width"}, "x2": {"value": "width"},
                "y": {"field": "p", "type": "quantitative", "scale": {"domain": [1.566075, 1.6056], "nice": false, "zero": false}, "axis": {"orient": "right", "values": [1.57, 1.575, 1.58, 1.59, 1.595, 1.605], "format": ".5f", "title": null, "minExtent": 98, "tickSize": 4, "labelPadding": 9}},
                "y2": {"field": "p"}
              }
            },
            {
              "mark": {"type": "text", "color": "#ffffff", "align": "left", "dx": 9, "font": "Roboto", "fontSize": 15, "fontWeight": "bold"},
              "encoding": {
                "x": {"value": "width"},
                "y": {"field": "p", "type": "quantitative", "scale": {"domain": [1.566075, 1.6056], "nice": false, "zero": false}, "axis": {"orient": "right", "values": [1.57, 1.575, 1.58, 1.59, 1.595, 1.605], "format": ".5f", "title": null, "minExtent": 98, "tickSize": 4, "labelPadding": 9}},
                "text": {"field": "p", "type": "quantitative", "format": ".5f"}
              }
            }
          ]
        },
        {
          "data": {"name": "levels"},
          "transform": [{"filter": "datum.p > 1.599"}],
          "layer": [
            {
              "mark": {"type": "rect", "color": "#2196f3", "xOffset": 1, "x2Offset": 78, "yOffset": 6, "y2Offset": 24},
              "encoding": {
                "x": {"value": "width"}, "x2": {"value": "width"},
                "y": {"field": "p", "type": "quantitative", "scale": {"domain": [1.566075, 1.6056], "nice": false, "zero": false}, "axis": {"orient": "right", "values": [1.57, 1.575, 1.58, 1.59, 1.595, 1.605], "format": ".5f", "title": null, "minExtent": 98, "tickSize": 4, "labelPadding": 9}},
                "y2": {"field": "p"}
              }
            },
            {
              "mark": {"type": "text", "color": "#ffffff", "align": "left", "dx": 9, "dy": 15, "font": "Roboto", "fontSize": 15, "fontWeight": "bold"},
              "encoding": {
                "x": {"value": "width"},
                "y": {"field": "p", "type": "quantitative", "scale": {"domain": [1.566075, 1.6056], "nice": false, "zero": false}, "axis": {"orient": "right", "values": [1.57, 1.575, 1.58, 1.59, 1.595, 1.605], "format": ".5f", "title": null, "minExtent": 98, "tickSize": 4, "labelPadding": 9}},
                "text": {"field": "p", "type": "quantitative", "format": ".5f"}
              }
            }
          ]
        }
      ]
    },
    {
      "width": 1348,
      "height": 82,
      "layer": [
        {
          "data": {"name": "rsiband"},
          "mark": {"type": "rect", "color": "#7e57c2", "opacity": 0.1},
          "encoding": {
            "y": {"field": "lo", "type": "quantitative", "scale": {"domain": [25.2, 85.9], "nice": false, "zero": false}, "axis": {"orient": "right", "values": [40, 80], "format": ".2f", "title": null, "minExtent": 98, "tickSize": 4, "labelPadding": 9}},
            "y2": {"field": "hi"}
          }
        },
        {
          "data": {"name": "rsiband"},
          "transform": [{"fold": ["lo", "hi"], "as": ["b", "val"]}],
          "mark": {"type": "rule", "color": "#787b86", "strokeDash": [4, 3], "strokeWidth": 1},
          "encoding": {
            "y": {"field": "val", "type": "quantitative", "scale": {"domain": [25.2, 85.9], "nice": false, "zero": false}, "axis": {"orient": "right", "values": [40, 80], "format": ".2f", "title": null, "minExtent": 98, "tickSize": 4, "labelPadding": 9}}
          }
        },
        {
          "data": {"name": "rsi"},
          "mark": {"type": "line", "color": "#7e57c2", "strokeWidth": 1.2},
          "encoding": {
            "x": {"field": "i", "type": "quantitative", "scale": {"domain": [-1.39, 283.15], "nice": false, "zero": false}, "axis": null},
            "y": {"field": "v", "type": "quantitative", "scale": {"domain": [25.2, 85.9], "nice": false, "zero": false}, "axis": {"orient": "right", "values": [40, 80], "format": ".2f", "title": null, "minExtent": 98, "tickSize": 4, "labelPadding": 9}}
          }
        }
      ]
    },
    {
      "width": 1348,
      "height": 99,
      "layer": [
        {
          "data": {"name": "candles"},
          "transform": [
            {"window": [{"op": "lag", "field": "hv", "as": "pv"}], "sort": [{"field": "i"}]},
            {"calculate": "datum.hv >= 0 ? (datum.hv >= (datum.pv || 0) ? 'a' : 'b') : (datum.hv <= (datum.pv || 0) ? 'c' : 'd')", "as": "hc"}
          ],
          "mark": {"type": "bar", "width": 3},
          "encoding": {
            "x": {"field": "i", "type": "quantitative", "scale": {"domain": [-1.39, 283.15], "nice": false, "zero": false}, "axis": {"values": [25, 69, 97, 121, 145, 169, 193, 217, 241, 265], "labelExpr": "datum.value == 69 ? '5' : datum.value == 169 ? '7' : datum.value == 265 ? '8' : (datum.value == 25 || datum.value == 121 || datum.value == 217) ? '12:00' : (datum.value == 97 || datum.value == 193) ? '06:00' : '18:00'", "labelFontWeight": {"condition": {"test": "datum.value == 69 || datum.value == 169 || datum.value == 265", "value": "bold"}, "value": "normal"}, "title": null, "labelFlush": false, "labelOverlap": false, "ticks": false, "tickSize": 0, "labelPadding": 6, "minExtent": 41, "domainColor": "#363a45"}},
            "y": {"field": "hv", "type": "quantitative", "scale": {"domain": [-0.001236, 0.002364], "nice": false, "zero": false}, "axis": {"orient": "right", "values": [0, 0.002], "format": ".5f", "title": null, "minExtent": 98, "tickSize": 4, "labelPadding": 9}},
            "y2": {"datum": 0},
            "color": {"field": "hc", "type": "nominal", "scale": {"domain": ["a", "b", "c", "d"], "range": ["#26a69a", "#b2dfdb", "#ff5252", "#ffcdd2"]}, "legend": null}
          }
        },
        {
          "data": {"name": "macd"},
          "mark": {"type": "line", "color": "#2196f3", "strokeWidth": 1.3, "interpolate": "monotone"},
          "encoding": {
            "x": {"field": "i", "type": "quantitative", "scale": {"domain": [-1.39, 283.15], "nice": false, "zero": false}, "axis": {"values": [25, 69, 97, 121, 145, 169, 193, 217, 241, 265], "labelExpr": "datum.value == 69 ? '5' : datum.value == 169 ? '7' : datum.value == 265 ? '8' : (datum.value == 25 || datum.value == 121 || datum.value == 217) ? '12:00' : (datum.value == 97 || datum.value == 193) ? '06:00' : '18:00'", "labelFontWeight": {"condition": {"test": "datum.value == 69 || datum.value == 169 || datum.value == 265", "value": "bold"}, "value": "normal"}, "title": null, "labelFlush": false, "labelOverlap": false, "ticks": false, "tickSize": 0, "labelPadding": 6, "minExtent": 41, "domainColor": "#363a45"}},
            "y": {"field": "m", "type": "quantitative", "scale": {"domain": [-0.001236, 0.002364], "nice": false, "zero": false}, "axis": {"orient": "right", "values": [0, 0.002], "format": ".5f", "title": null, "minExtent": 98, "tickSize": 4, "labelPadding": 9}}
          }
        },
        {
          "data": {"name": "sig"},
          "mark": {"type": "line", "color": "#ff6d00", "strokeWidth": 1.3, "interpolate": "monotone"},
          "encoding": {
            "x": {"field": "i", "type": "quantitative", "scale": {"domain": [-1.39, 283.15], "nice": false, "zero": false}, "axis": {"values": [25, 69, 97, 121, 145, 169, 193, 217, 241, 265], "labelExpr": "datum.value == 69 ? '5' : datum.value == 169 ? '7' : datum.value == 265 ? '8' : (datum.value == 25 || datum.value == 121 || datum.value == 217) ? '12:00' : (datum.value == 97 || datum.value == 193) ? '06:00' : '18:00'", "labelFontWeight": {"condition": {"test": "datum.value == 69 || datum.value == 169 || datum.value == 265", "value": "bold"}, "value": "normal"}, "title": null, "labelFlush": false, "labelOverlap": false, "ticks": false, "tickSize": 0, "labelPadding": 6, "minExtent": 41, "domainColor": "#363a45"}},
            "y": {"field": "s", "type": "quantitative", "scale": {"domain": [-0.001236, 0.002364], "nice": false, "zero": false}, "axis": {"orient": "right", "values": [0, 0.002], "format": ".5f", "title": null, "minExtent": 98, "tickSize": 4, "labelPadding": 9}}
          }
        }
      ]
    }
  ]
}
